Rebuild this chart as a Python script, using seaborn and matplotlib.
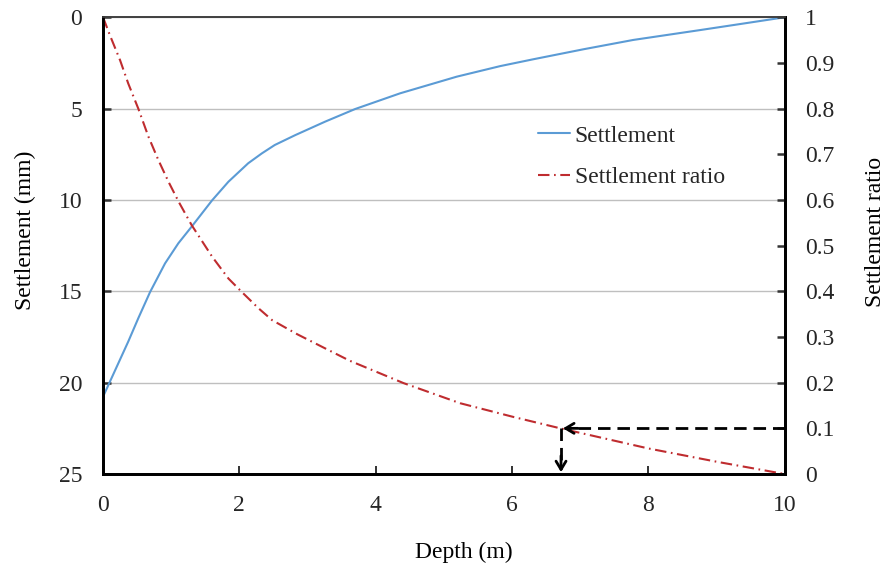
import matplotlib
matplotlib.use("Agg")
import matplotlib.pyplot as plt
import seaborn as sns
import pandas as pd

# Settlement profile along depth (mm)
settle_depth = [0, 0.18, 0.37, 0.52, 0.69, 0.91, 1.105, 1.30, 1.60, 1.84, 2.13, 2.33, 2.52,
                2.82, 3.26, 3.70, 4.36, 5.19, 5.83, 6.31, 7.05, 7.78, 8.76, 9.40, 10.0]
settlement = [20.77, 19.30, 17.75, 16.45, 15.04, 13.47, 12.37, 11.46, 10.02, 9.00, 7.99, 7.45, 6.99,
              6.45, 5.71, 5.02, 4.16, 3.25, 2.67, 2.30, 1.75, 1.24, 0.70, 0.34, 0.0]

# Settlement ratio along depth
ratio_depth = [0, 0.10, 0.25, 0.37, 0.52, 0.665, 0.81, 0.96, 1.11, 1.30, 1.60, 1.84, 2.04,
               2.28, 2.48, 2.85, 3.26, 3.62, 4.41, 5.24, 6.02, 6.71, 8.0, 9.0, 10.0]
settlement_ratio = [1.0, 0.961, 0.906, 0.855, 0.799, 0.739, 0.688, 0.640, 0.596, 0.545, 0.476,
                    0.428, 0.398, 0.363, 0.337, 0.306, 0.275, 0.248, 0.199, 0.155, 0.125,
                    0.100, 0.056, 0.027, 0.0]

# Threshold read-off
target_ratio = 0.1
target_depth = 6.72

x_ticks = [0, 2, 4, 6, 8, 10]
left_ticks = [0, 5, 10, 15, 20, 25]
right_ticks = [0, 0.1, 0.2, 0.3, 0.4, 0.5, 0.6, 0.7, 0.8, 0.9, 1]
right_tick_labels = ["0", "0.1", "0.2", "0.3", "0.4", "0.5", "0.6", "0.7", "0.8", "0.9", "1"]

sns.set_theme(style="white")
plt.rcParams["font.family"] = ["Liberation Serif", "DejaVu Serif"]
FS = 17

df_s = pd.DataFrame({"Depth": settle_depth, "Settlement": settlement})
df_r = pd.DataFrame({"Depth": ratio_depth, "Ratio": settlement_ratio})

fig = plt.figure(figsize=(8.86, 5.67), dpi=100)
ax = fig.add_axes([0.1163, 0.164, 0.7692, 0.8055])
ax2 = ax.twinx()

blue = "#5B9BD5"
red = "#BF2C2F"

sns.lineplot(data=df_s, x="Depth", y="Settlement", ax=ax, color=blue, lw=1.5,
             label="Settlement", sort=False, legend=False)
sns.lineplot(data=df_r, x="Depth", y="Ratio", ax=ax2, color=red, lw=1.5,
             linestyle=(0, (5.5, 2.2, 0.8, 2.2)), label="Settlement ratio",
             sort=False, legend=False)

# Left axis (settlement, inverted)
ax.set_xlim(0, 10)
ax.set_ylim(25, 0)
ax.set_xticks(x_ticks)
ax.set_yticks(left_ticks)
ax.set_xticklabels([str(v) for v in x_ticks], fontsize=FS)
ax.set_yticklabels([str(v) for v in left_ticks], fontsize=FS)
ax.yaxis.grid(True, color="#bfbfbf", lw=1.0)
ax.xaxis.grid(False)
ax.tick_params(axis="y", direction="in", length=6, width=1.8, color="#333333", pad=15,
               left=True, right=False)
ax.tick_params(axis="x", direction="in", length=6, width=1.3, color="#222222", pad=15.3,
               bottom=True)
ax.set_xlabel("Depth (m)", fontsize=FS, color="black")
ax.set_ylabel("Settlement (mm)", fontsize=FS, color="black")
ax.xaxis.set_label_coords(0.53, -0.149)
ax.yaxis.set_label_coords(-0.098, 0.534)

# Right axis (ratio)
ax2.set_ylim(0, 1)
ax2.set_yticks(right_ticks)
ax2.set_yticklabels(right_tick_labels, fontsize=FS)
ax2.tick_params(axis="y", direction="in", length=6, width=1.8, color="#333333", pad=15,
                right=True, left=False)
ax2.set_ylabel("Settlement ratio", fontsize=FS, color="black")
ax2.yaxis.set_label_coords(1.118, 0.53)
ax2.grid(False)

for a in (ax, ax2):
    for side in ("left", "bottom", "right"):
        a.spines[side].set_color("black")
        a.spines[side].set_linewidth(2.0)
    a.spines["top"].set_color("#404040")
    a.spines["top"].set_linewidth(1.2)

# Dashed read-off guides with open arrowheads
guide = dict(color="black", lw=2.0, linestyle=(0, (4.5, 2.5)), solid_capstyle="butt")
ax2.plot([10, target_depth + 0.05], [target_ratio, target_ratio], **guide, clip_on=False)
ax2.plot([target_depth, target_depth], [target_ratio, 0.012], **guide)
head = dict(arrowstyle="->,head_length=0.5,head_width=0.3", color="black", lw=2.0,
            shrinkA=0, shrinkB=0)
ax2.annotate("", xy=(target_depth + 0.03, target_ratio),
             xytext=(target_depth + 0.25, target_ratio), arrowprops=head)
ax2.annotate("", xy=(target_depth, 0.004),
             xytext=(target_depth, 0.04), arrowprops=head)

# Combined legend
h1, l1 = ax.get_legend_handles_labels()
h2, l2 = ax2.get_legend_handles_labels()
leg = ax2.legend(h1 + h2, l1 + l2, loc="upper left", bbox_to_anchor=(0.638, 0.764),
                 frameon=False, fontsize=FS, borderpad=0, borderaxespad=0,
                 handlelength=1.36, handletextpad=0.2, labelspacing=0.86)

fig.savefig("out.png", dpi=100)
